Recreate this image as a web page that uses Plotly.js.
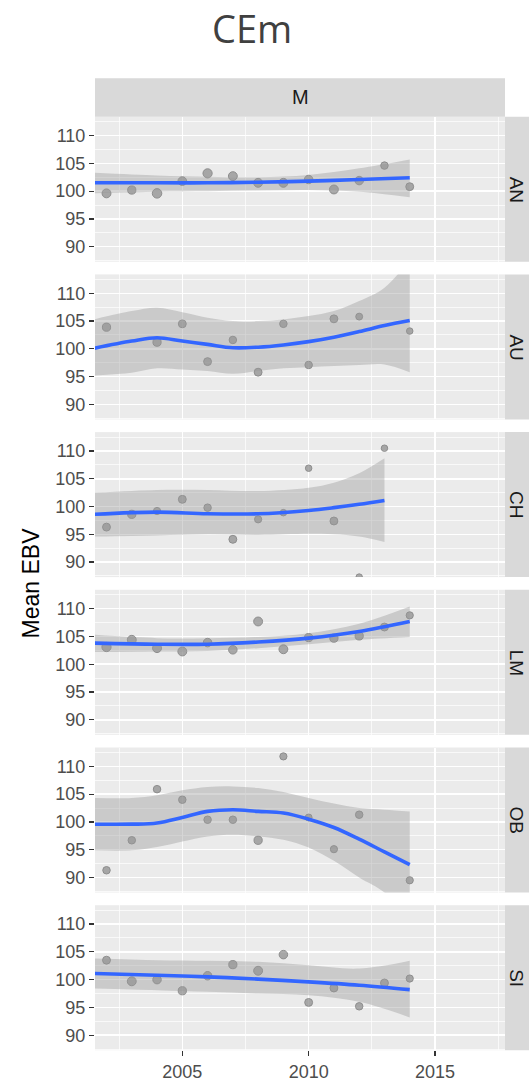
<!DOCTYPE html>
<html>
<head>
<meta charset="utf-8">
<script src="https://cdn.plot.ly/plotly-3.0.1.min.js"></script>
<style>html,body{margin:0;padding:0;background:#fff;}#chart{width:529px;height:1081px;}</style>
</head>
<body>
<div id="chart"></div>
<script>
// ---------- data ----------
const panelNames = ['AN', 'AU', 'CH', 'LM', 'OB', 'SI'];
const colLabel = 'M';
const xTicks = [2005, 2010, 2015];
const yTicks = [90, 95, 100, 105, 110];

// observed means (points)
const AN_year = [2002, 2003, 2004, 2005, 2006, 2007, 2008, 2009, 2010, 2011, 2012, 2013, 2014];
const AN_ebv  = [99.6, 100.2, 99.6, 101.8, 103.2, 102.7, 101.5, 101.5, 102.1, 100.3, 101.9, 104.6, 100.8];
const AN_n    = [8.7, 8, 9.3, 8.5, 9, 8.7, 8.7, 8.7, 8.3, 8.7, 8.3, 7.3, 7.7];

const AU_year = [2002, 2004, 2005, 2006, 2007, 2008, 2009, 2010, 2011, 2012, 2014];
const AU_ebv  = [103.9, 101.2, 104.5, 97.7, 101.6, 95.8, 104.5, 97.1, 105.4, 105.8, 103.2];
const AU_n    = [8, 8, 7.7, 7.7, 7.3, 7.7, 7.3, 7.3, 7.7, 6.7, 6.3];

const CH_year = [2002, 2003, 2004, 2005, 2006, 2007, 2008, 2009, 2010, 2011, 2012, 2013];
const CH_ebv  = [96.3, 98.6, 99.2, 101.3, 99.8, 94.1, 97.7, 98.9, 106.9, 97.4, 87.3, 110.5];
const CH_n    = [7.7, 8, 7, 7.7, 7.3, 7.7, 7, 6.3, 6.3, 7.7, 6.3, 6.3];

const LM_year = [2002, 2003, 2004, 2005, 2006, 2007, 2008, 2009, 2010, 2011, 2012, 2013, 2014];
const LM_ebv  = [103.1, 104.4, 102.9, 102.3, 103.9, 102.6, 107.7, 102.7, 104.8, 104.7, 105.1, 106.7, 108.8];
const LM_n    = [9, 8.7, 8.7, 8.7, 8.3, 8.3, 8.7, 8.7, 8, 8, 8, 7.7, 7];

const OB_year = [2002, 2003, 2004, 2005, 2006, 2007, 2008, 2009, 2010, 2011, 2012, 2014];
const OB_ebv  = [91.3, 96.7, 105.9, 104.0, 100.4, 100.4, 96.7, 111.8, 100.8, 95.1, 101.3, 89.5];
const OB_n    = [7.3, 7.3, 7.3, 7.3, 7.3, 7.3, 8, 7, 6.7, 7, 7.3, 7];

const SI_year = [2002, 2003, 2004, 2005, 2006, 2007, 2008, 2009, 2010, 2011, 2012, 2013, 2014];
const SI_ebv  = [103.5, 99.7, 100.0, 98.0, 100.7, 102.7, 101.6, 104.5, 95.9, 98.5, 95.2, 99.4, 100.2];
const SI_n    = [7.7, 8.7, 8.3, 8, 8.3, 8, 8.7, 8.3, 7.7, 7.7, 7.3, 7.7, 7];

// loess smooth (fit, lower, upper)
const AN_sx  = [2001.5, 2004, 2006, 2008, 2010, 2012, 2014];
const AN_fit = [101.5, 101.5, 101.5, 101.6, 101.8, 102.1, 102.4];
const AN_lo  = [99.6, 99.9, 100.0, 100.1, 100.2, 99.9, 98.9];
const AN_hi  = [103.3, 102.8, 102.6, 102.5, 102.9, 104.1, 105.7];

const AU_sx  = [2001.5, 2003, 2004, 2005, 2006, 2007, 2008, 2009, 2010, 2011, 2012, 2013, 2014];
const AU_fit = [100.1, 101.4, 102.0, 101.4, 100.8, 100.2, 100.3, 100.7, 101.3, 102.1, 103.1, 104.2, 105.1];
const AU_lo  = [95.2, 95.7, 96.5, 96.3, 96.0, 95.5, 96.0, 96.5, 96.7, 96.9, 97.1, 97.2, 95.8];
const AU_hi  = [105.3, 106.8, 107.4, 106.6, 105.6, 105.0, 105.0, 105.3, 105.9, 106.8, 108.6, 111.0, 116.1];

const CH_sx  = [2001.5, 2004, 2006, 2008, 2010, 2011, 2012, 2013];
const CH_fit = [98.6, 99.0, 98.7, 98.7, 99.3, 99.8, 100.4, 101.1];
const CH_lo  = [94.6, 94.8, 95.0, 94.9, 95.1, 95.0, 94.6, 93.6];
const CH_hi  = [102.5, 103.0, 103.0, 102.8, 103.4, 104.3, 106.0, 108.7];

const LM_sx  = [2001.5, 2004, 2006, 2008, 2010, 2012, 2014];
const LM_fit = [103.8, 103.6, 103.6, 104.0, 104.7, 105.9, 107.7];
const LM_lo  = [102.2, 102.3, 102.4, 102.9, 103.6, 104.4, 104.9];
const LM_hi  = [105.3, 104.7, 104.7, 104.9, 105.6, 107.3, 110.4];

const OB_sx  = [2001.5, 2003, 2004, 2005, 2006, 2007, 2008, 2009, 2010, 2011, 2012, 2013, 2014];
const OB_fit = [99.6, 99.6, 99.8, 100.8, 101.9, 102.2, 101.9, 101.6, 100.5, 99.0, 96.9, 94.6, 92.3];
const OB_lo  = [94.9, 94.9, 95.5, 96.5, 97.4, 97.7, 97.4, 96.8, 95.4, 93.0, 90.0, 87.3, 82.5];
const OB_hi  = [104.3, 104.3, 104.8, 105.7, 106.3, 106.4, 106.1, 105.4, 104.3, 103.3, 102.5, 102.2, 101.9];

const SI_sx  = [2001.5, 2004, 2006, 2008, 2010, 2012, 2014];
const SI_fit = [101.1, 100.8, 100.5, 100.1, 99.6, 99.0, 98.2];
const SI_lo  = [98.4, 98.1, 97.8, 97.5, 97.2, 96.0, 93.2];
const SI_hi  = [103.8, 103.5, 103.4, 103.2, 102.6, 102.0, 103.4];

const pts = {
  AN: [AN_year, AN_ebv, AN_n], AU: [AU_year, AU_ebv, AU_n], CH: [CH_year, CH_ebv, CH_n],
  LM: [LM_year, LM_ebv, LM_n], OB: [OB_year, OB_ebv, OB_n], SI: [SI_year, SI_ebv, SI_n]
};
const smooth = {
  AN: [AN_sx, AN_fit, AN_lo, AN_hi], AU: [AU_sx, AU_fit, AU_lo, AU_hi], CH: [CH_sx, CH_fit, CH_lo, CH_hi],
  LM: [LM_sx, LM_fit, LM_lo, LM_hi], OB: [OB_sx, OB_fit, OB_lo, OB_hi], SI: [SI_sx, SI_fit, SI_lo, SI_hi]
};

// ---------- layout geometry ----------
const W = 529, H = 1081;
const panelLeft = 95, panelRight = 505;
const firstTop = 116.7, panelH = 145, pitch = 157.7;
const stripTop = 78.3, stripW = 38.4;
const xRange = [2001.545, 2017.77];
const yRange = [87.3, 113.4];
const FONT = 'Liberation Sans, Arial, sans-serif';

const traces = [];
const layout = {
  width: W, height: H,
  margin: {l: 0, r: 0, t: 0, b: 0},
  paper_bgcolor: '#ffffff', plot_bgcolor: '#ebebeb',
  showlegend: false,
  shapes: [], annotations: []
};

panelNames.forEach((name, i) => {
  const k = i === 0 ? '' : String(i + 1);
  const top = firstTop + i * pitch;
  const yd = [1 - (top + panelH) / H, 1 - top / H];
  const isBottom = i === panelNames.length - 1;

  layout['xaxis' + k] = {
    domain: [panelLeft / W, panelRight / W],
    range: xRange, anchor: 'y' + k,
    tickmode: 'array', tickvals: xTicks, ticktext: xTicks.map(String),
    showticklabels: isBottom, ticks: isBottom ? 'outside' : '',
    ticklen: 5, tickwidth: 1.2, tickcolor: '#333333',
    tickfont: {family: FONT, size: 18, color: '#4d4d4d'},
    showgrid: true, gridcolor: '#ffffff', gridwidth: 1.5,
    minor: {tickmode: 'array', tickvals: [2002.5, 2007.5, 2012.5, 2017.5], showgrid: true, gridcolor: '#ffffff', gridwidth: 0.7, ticks: ''},
    zeroline: false, showline: false, fixedrange: true
  };
  layout['yaxis' + k] = {
    domain: yd, range: yRange, anchor: 'x' + k,
    tickmode: 'array', tickvals: yTicks, ticktext: yTicks.map(String),
    ticks: 'outside', ticklen: 5, tickwidth: 1.2, tickcolor: '#333333',
    tickfont: {family: FONT, size: 18, color: '#4d4d4d'},
    showgrid: true, gridcolor: '#ffffff', gridwidth: 1.5,
    minor: {tickmode: 'array', tickvals: [87.5, 92.5, 97.5, 102.5, 107.5, 112.5], showgrid: true, gridcolor: '#ffffff', gridwidth: 0.7, ticks: ''},
    zeroline: false, showline: false, fixedrange: true
  };

  const [px, py, pn] = pts[name];
  const [sx, sf, sl, sh] = smooth[name];
  const xa = 'x' + k, ya = 'y' + k;

  traces.push({
    type: 'scatter', mode: 'markers', x: px, y: py, xaxis: xa, yaxis: ya,
    marker: {size: pn.map(d => d + 0.2), color: '#8a8a8a', line: {color: '#666666', width: 1}},
    hoverinfo: 'skip'
  });
  traces.push({
    type: 'scatter', mode: 'lines', x: sx, y: sl, xaxis: xa, yaxis: ya,
    line: {width: 0, shape: 'spline'}, hoverinfo: 'skip'
  });
  traces.push({
    type: 'scatter', mode: 'lines', x: sx, y: sh, xaxis: xa, yaxis: ya,
    line: {width: 0, shape: 'spline'}, fill: 'tonexty', fillcolor: 'rgba(153,153,153,0.4)', hoverinfo: 'skip'
  });
  traces.push({
    type: 'scatter', mode: 'lines', x: sx, y: sf, xaxis: xa, yaxis: ya,
    line: {color: '#3366FF', width: 3.6, shape: 'spline'}, hoverinfo: 'skip'
  });

  // right strip
  layout.shapes.push({
    type: 'rect', xref: 'paper', yref: 'paper', layer: 'below',
    x0: panelRight / W, x1: (panelRight + stripW) / W, y0: yd[0], y1: yd[1],
    fillcolor: '#d9d9d9', line: {width: 0}
  });
  layout.annotations.push({
    xref: 'paper', yref: 'paper', x: 516.5 / W, y: (yd[0] + yd[1]) / 2,
    xanchor: 'center', yanchor: 'middle', text: name, textangle: 90, showarrow: false,
    font: {family: FONT, size: 19, color: '#1a1a1a'}
  });
});

// top strip
layout.shapes.push({
  type: 'rect', xref: 'paper', yref: 'paper', layer: 'below',
  x0: panelLeft / W, x1: panelRight / W, y0: 1 - firstTop / H, y1: 1 - stripTop / H,
  fillcolor: '#d9d9d9', line: {width: 0}
});
layout.annotations.push({
  xref: 'paper', yref: 'paper', x: (panelLeft + panelRight) / 2 / W, y: 1 - (stripTop + firstTop) / 2 / H,
  xanchor: 'center', yanchor: 'middle', text: colLabel, showarrow: false,
  font: {family: FONT, size: 20, color: '#1a1a1a'}
});

// y title
const lastBottom = firstTop + 5 * pitch + panelH;
layout.annotations.push({
  xref: 'paper', yref: 'paper', x: 31 / W, y: 1 - (firstTop + lastBottom) / 2 / H,
  xanchor: 'center', yanchor: 'middle', text: 'Mean EBV', textangle: -90, showarrow: false,
  font: {family: FONT, size: 23, color: '#000000'}
});

// main title
layout.annotations.push({
  xref: 'paper', yref: 'paper', x: 252 / W, y: 1 - 28 / H,
  xanchor: 'center', yanchor: 'middle', text: 'CEm', showarrow: false,
  font: {family: 'Open Sans, sans-serif', size: 38, color: '#404040'}
});

Plotly.newPlot('chart', traces, layout, {staticPlot: true, displayModeBar: false});
</script>
</body>
</html>
